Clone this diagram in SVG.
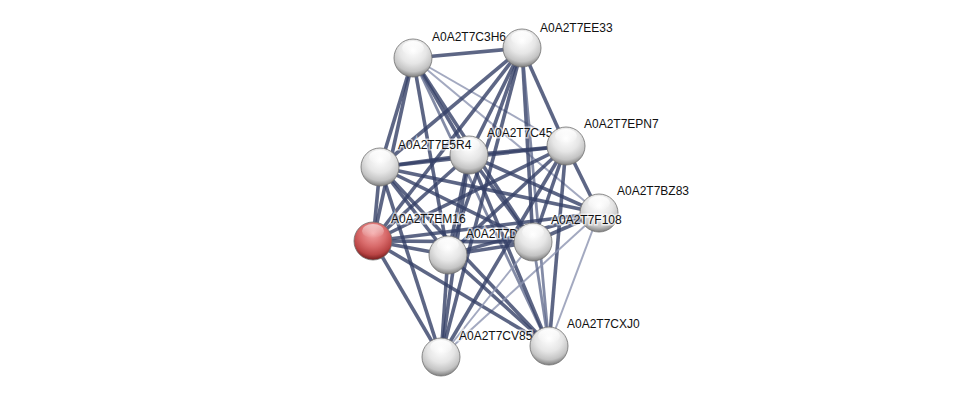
<svg xmlns="http://www.w3.org/2000/svg" width="976" height="403" viewBox="0 0 976 403">
<defs>
<radialGradient id="gw" cx="50%" cy="30%" r="70%">
<stop offset="0" stop-color="#ffffff"/>
<stop offset="0.5" stop-color="#e6e6e6"/>
<stop offset="0.8" stop-color="#c4c4c4"/>
<stop offset="1" stop-color="#7e7e7e"/>
</radialGradient>
<radialGradient id="gr" cx="50%" cy="30%" r="70%">
<stop offset="0" stop-color="#f4a4a4"/>
<stop offset="0.5" stop-color="#d86a6a"/>
<stop offset="0.8" stop-color="#b94444"/>
<stop offset="1" stop-color="#741c1c"/>
</radialGradient>
<linearGradient id="hl" x1="0" y1="0" x2="0" y2="1">
<stop offset="0" stop-color="#fff" stop-opacity="0.95"/>
<stop offset="1" stop-color="#fff" stop-opacity="0"/>
</linearGradient>
</defs>
<style>
.e{stroke:#344066;stroke-width:3.6;stroke-opacity:0.8;fill:none}
.l{stroke:#8c94b0;stroke-width:2;stroke-opacity:0.8;fill:none}
.m{stroke:#5a6488;stroke-width:2.8;stroke-opacity:0.75;fill:none}
.n{stroke:#6e6e6e;stroke-width:0.8}
.t{font-family:"Liberation Sans",Arial,sans-serif;font-size:12px;fill:#111;stroke:#fff;stroke-width:3;stroke-opacity:0.6;paint-order:stroke}
</style>
<rect width="976" height="403" fill="#fff"/>
<g id="edges">
<line class="e" x1="413" y1="58" x2="522" y2="48"/>
<line class="e" x1="413" y1="58" x2="380" y2="167"/>
<line class="e" x1="413" y1="58" x2="373" y2="241"/>
<line class="e" x1="413" y1="58" x2="469" y2="155"/>
<line class="e" x1="413" y1="58" x2="448" y2="255"/>
<line class="e" x1="413" y1="58" x2="533" y2="242"/>
<line class="l" x1="413" y1="58" x2="566" y2="146"/>
<line class="l" x1="413" y1="58" x2="599" y2="213"/>
<line class="m" x1="413" y1="58" x2="549" y2="346"/>
<line class="e" x1="522" y1="48" x2="380" y2="167"/>
<line class="e" x1="522" y1="48" x2="373" y2="241"/>
<line class="e" x1="522" y1="48" x2="469" y2="155"/>
<line class="e" x1="522" y1="48" x2="448" y2="255"/>
<line class="e" x1="522" y1="48" x2="533" y2="242"/>
<line class="e" x1="522" y1="48" x2="566" y2="146"/>
<line class="m" x1="522" y1="48" x2="549" y2="346"/>
<line class="e" x1="522" y1="48" x2="441" y2="357"/>
<line class="e" x1="380" y1="167" x2="469" y2="155"/>
<line class="e" x1="380" y1="167" x2="566" y2="146"/>
<line class="e" x1="380" y1="167" x2="373" y2="241"/>
<line class="e" x1="380" y1="167" x2="448" y2="255"/>
<line class="e" x1="380" y1="167" x2="533" y2="242"/>
<line class="e" x1="380" y1="167" x2="599" y2="213"/>
<line class="e" x1="380" y1="167" x2="441" y2="357"/>
<line class="e" x1="380" y1="167" x2="549" y2="346"/>
<line class="e" x1="469" y1="155" x2="566" y2="146"/>
<line class="e" x1="469" y1="155" x2="373" y2="241"/>
<line class="e" x1="469" y1="155" x2="448" y2="255"/>
<line class="e" x1="469" y1="155" x2="533" y2="242"/>
<line class="e" x1="469" y1="155" x2="599" y2="213"/>
<line class="e" x1="469" y1="155" x2="441" y2="357"/>
<line class="e" x1="469" y1="155" x2="549" y2="346"/>
<line class="e" x1="566" y1="146" x2="373" y2="241"/>
<line class="e" x1="566" y1="146" x2="448" y2="255"/>
<line class="e" x1="566" y1="146" x2="533" y2="242"/>
<line class="e" x1="566" y1="146" x2="599" y2="213"/>
<line class="e" x1="566" y1="146" x2="441" y2="357"/>
<line class="e" x1="566" y1="146" x2="549" y2="346"/>
<line class="e" x1="599" y1="213" x2="373" y2="241"/>
<line class="e" x1="599" y1="213" x2="448" y2="255"/>
<line class="e" x1="599" y1="213" x2="533" y2="242"/>
<line class="l" x1="599" y1="213" x2="441" y2="357"/>
<line class="l" x1="599" y1="213" x2="549" y2="346"/>
<line class="e" x1="373" y1="241" x2="448" y2="255"/>
<line class="e" x1="373" y1="241" x2="533" y2="242"/>
<line class="e" x1="373" y1="241" x2="441" y2="357"/>
<line class="e" x1="373" y1="241" x2="549" y2="346"/>
<line class="e" x1="448" y1="255" x2="533" y2="242"/>
<line class="e" x1="448" y1="255" x2="441" y2="357"/>
<line class="e" x1="448" y1="255" x2="549" y2="346"/>
<line class="l" x1="533" y1="242" x2="441" y2="357"/>
<line class="m" x1="533" y1="242" x2="549" y2="346"/>
</g>
<g id="n-C3H6"><circle class="n" cx="413" cy="58" r="19" fill="url(#gw)"/><ellipse cx="413" cy="48" rx="11" ry="7" fill="url(#hl)"/><text class="t" x="432" y="41">A0A2T7C3H6</text></g>
<g id="n-EE33"><circle class="n" cx="522" cy="48" r="19" fill="url(#gw)"/><ellipse cx="522" cy="38" rx="11" ry="7" fill="url(#hl)"/><text class="t" x="540" y="32">A0A2T7EE33</text></g>
<g id="n-C45"><circle class="n" cx="469" cy="155" r="19" fill="url(#gw)"/><ellipse cx="469" cy="145" rx="11" ry="7" fill="url(#hl)"/><text class="t" x="487" y="137">A0A2T7C45</text></g>
<g id="n-E5R4"><circle class="n" cx="380" cy="167" r="19" fill="url(#gw)"/><ellipse cx="380" cy="157" rx="11" ry="7" fill="url(#hl)"/><text class="t" x="398" y="149">A0A2T7E5R4</text></g>
<g id="n-EPN7"><circle class="n" cx="566" cy="146" r="19" fill="url(#gw)"/><ellipse cx="566" cy="136" rx="11" ry="7" fill="url(#hl)"/><text class="t" x="584" y="128">A0A2T7EPN7</text></g>
<g id="n-BZ83"><circle class="n" cx="599" cy="213" r="19" fill="url(#gw)"/><ellipse cx="599" cy="203" rx="11" ry="7" fill="url(#hl)"/><text class="t" x="617" y="195">A0A2T7BZ83</text></g>
<g id="n-EM16"><circle class="n" cx="373" cy="241" r="19" fill="url(#gr)"/><ellipse cx="373" cy="231" rx="11" ry="7" fill="url(#hl)" opacity="0.6"/><text class="t" x="391" y="223">A0A2T7EM16</text></g>
<g id="n-D"><circle class="n" cx="448" cy="255" r="19" fill="url(#gw)"/><ellipse cx="448" cy="245" rx="11" ry="7" fill="url(#hl)"/><text class="t" x="466" y="238">A0A2T7D</text></g>
<g id="n-F108"><circle class="n" cx="533" cy="242" r="19" fill="url(#gw)"/><ellipse cx="533" cy="232" rx="11" ry="7" fill="url(#hl)"/><text class="t" x="551" y="224">A0A2T7F108</text></g>
<g id="n-CV85"><circle class="n" cx="441" cy="357" r="19" fill="url(#gw)"/><ellipse cx="441" cy="347" rx="11" ry="7" fill="url(#hl)"/><text class="t" x="459" y="340">A0A2T7CV85</text></g>
<g id="n-CXJ0"><circle class="n" cx="549" cy="346" r="19" fill="url(#gw)"/><ellipse cx="549" cy="336" rx="11" ry="7" fill="url(#hl)"/><text class="t" x="567" y="328">A0A2T7CXJ0</text></g>
</svg>
